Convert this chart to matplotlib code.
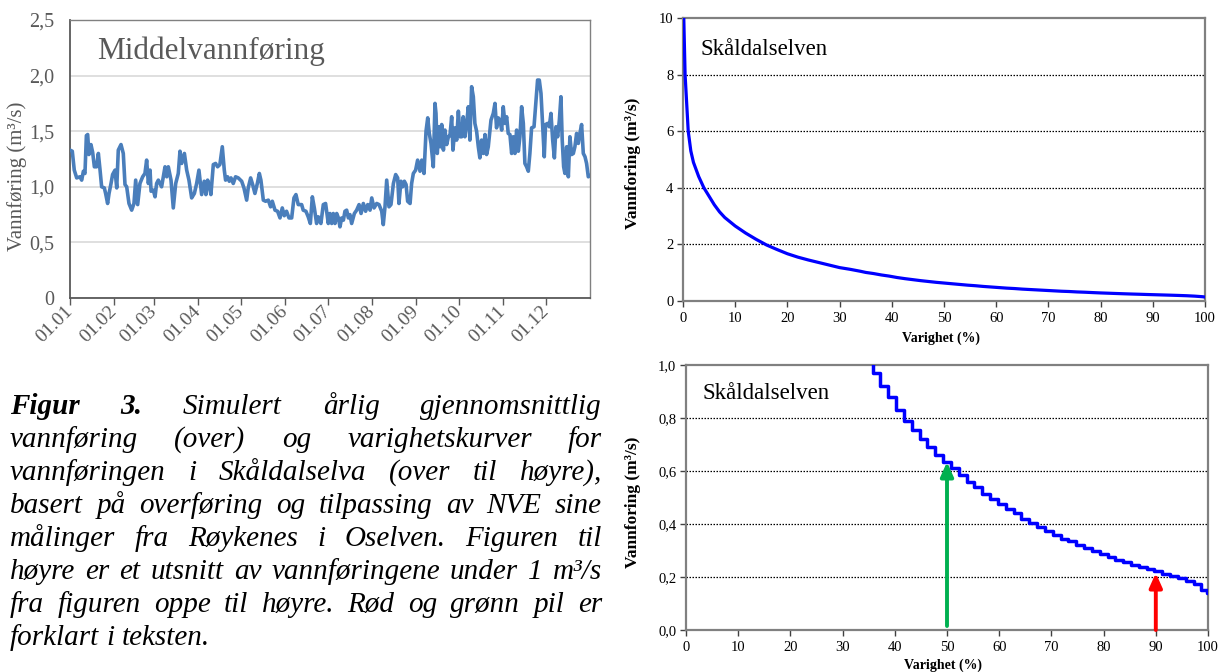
import matplotlib
matplotlib.use('Agg')
import matplotlib.pyplot as plt
from matplotlib.ticker import FixedLocator, FixedFormatter

# ---------------- data ----------------
# Middelvannføring (daily mean flow over the year), day-of-year vs m3/s
days = [0, 1.6, 3.0, 4.7, 7.0, 8.2, 9.4, 10.5, 11.5, 12.4, 13.3, 14.7, 15.9, 17.1, 18.7,
        19.9, 21.1, 22.2, 24.1, 25.0, 26.4, 27.4, 28.8, 29.9, 31.6, 32.8, 33.9, 35.8, 37.4, 38.6,
        39.8, 41.4, 43.3, 44.9, 46.1, 47.5, 49.1, 51.0, 52.6, 53.8, 55.0, 56.2, 56.9, 58.5, 59.7,
        60.8, 62.0, 64.3, 66.7, 67.9, 69.0, 70.9, 72.5, 74.2, 76.0, 77.2, 78.4, 80.3, 81.9, 83.5,
        85.4, 87.3, 88.9, 90.5,
        92.4, 94.2, 95.4, 96.6, 97.8, 98.9, 100.6, 102.2, 103.6, 105.2, 106.9, 108.3, 109.2, 110.6, 111.8,
        113.0, 114.6, 116.2, 118.1, 120.5, 122.1, 124.0, 125.1, 126.8, 128.2, 129.8, 131.5, 132.9, 134.0, 135.7,
        137.3, 139.2, 140.8, 142.0, 143.9, 145.7, 147.4, 149.0, 150.4, 152.0, 153.7, 155.6, 157.2, 158.6, 160.2,
        162.6, 163.7, 165.6, 167.2, 168.7, 170.1, 171.5, 173.1, 174.3, 176.1, 177.8, 179.4, 181.3,
        182.5, 183.7, 184.8, 186.0, 187.2, 188.4, 189.5, 190.7, 191.9, 193.0, 194.2, 195.4, 196.5, 197.7, 199.6,
        201.2, 202.9, 204.3, 205.9, 207.5, 209.0, 210.6, 211.8, 213.4, 215.3, 216.9, 218.8, 219.9, 221.1, 222.3,
        223.9, 225.3, 227.0, 228.6, 230.0, 230.9, 232.3, 233.5, 234.7, 235.9, 237.0, 238.7, 239.8, 241.0, 242.6,
        244.0, 245.7, 246.9, 248.5, 249.9, 251.1, 252.2, 253.4, 255.0, 256.2, 256.9, 257.8, 259.0, 260.0, 260.9,
        262.1, 263.2, 264.4, 265.6, 266.7, 267.9, 268.8, 270.2, 271.4, 272.6, 273.8,
        274.9, 276.0, 277.2, 278.4, 279.6, 280.7, 281.9, 283.1, 284.2, 285.4, 286.6, 287.7, 288.9, 290.1, 291.3,
        292.4, 293.6, 295.5, 297.1, 298.3, 299.4, 300.6, 301.8, 303.0, 304.1, 305.3, 306.5, 307.6, 308.8, 310.0,
        311.1, 312.3, 313.5, 314.7, 315.8, 317.0, 318.2, 319.3, 320.5, 321.7, 322.8, 324.0, 325.7, 327.1, 328.2,
        329.4, 330.6, 331.7, 332.9, 333.8, 335.2, 336.4, 337.6, 338.8, 340.0, 341.1, 342.3, 343.5, 344.6, 345.5,
        346.5, 347.4, 348.6, 349.8, 350.9, 352.1, 353.3, 354.4, 355.6, 356.8, 357.9, 359.1, 360.3, 361.5, 362.6,
        363.8, 365.0]
flows = [1.33, 1.32, 1.15, 1.08, 1.09, 1.06, 1.14, 1.12, 1.46, 1.47, 1.29, 1.38, 1.31, 1.18, 1.18,
         1.30, 1.15, 1.00, 0.99, 0.94, 0.85, 0.94, 1.03, 1.11, 1.15, 0.99, 1.33, 1.38, 1.30, 1.02,
         1.00, 0.85, 0.79, 0.85, 1.06, 0.84, 1.03, 1.09, 1.12, 1.24, 1.03, 1.15, 0.96, 0.97, 0.91,
         1.03, 1.06, 1.00, 1.18, 1.09, 1.18, 1.06, 0.81, 1.03, 1.12, 1.32, 1.21, 1.30, 1.15, 1.06,
         0.90, 0.94, 1.03, 1.15,
         0.93, 1.05, 0.93, 1.06, 1.01, 0.93, 1.20, 1.21, 1.18, 1.20, 1.36, 1.15, 1.06, 1.09, 1.05,
         1.08, 1.03, 1.09, 1.08, 1.05, 0.99, 0.88, 0.99, 1.08, 1.02, 0.94, 1.03, 1.12, 1.06, 0.88,
         0.87, 0.88, 0.82, 0.87, 0.79, 0.78, 0.72, 0.81, 0.74, 0.78, 0.72, 0.72, 0.90, 0.93, 0.84,
         0.84, 0.79, 0.78, 0.73, 0.67, 0.91, 0.81, 0.67, 0.73, 0.67, 0.84, 0.85, 0.67,
         0.76, 0.67, 0.76, 0.67, 0.76, 0.72, 0.64, 0.72, 0.70, 0.78, 0.79, 0.72, 0.75, 0.67, 0.76,
         0.79, 0.84, 0.76, 0.85, 0.78, 0.84, 0.79, 0.90, 0.81, 0.85, 0.84, 0.78, 0.66, 0.82, 1.06,
         0.82, 0.84, 1.03, 1.11, 1.08, 0.85, 1.05, 1.00, 1.05, 1.02, 0.87, 0.85, 1.03, 1.12, 1.15,
         1.24, 1.14, 1.24, 1.12, 1.50, 1.62, 1.48, 1.39, 1.18, 1.75, 1.66, 1.30, 1.54, 1.36, 1.56,
         1.33, 1.51, 1.38, 1.45, 1.46, 1.63, 1.33, 1.53, 1.42, 1.68, 1.45,
         1.45, 1.63, 1.45, 1.57, 1.72, 1.42, 1.90, 1.81, 1.57, 1.50, 1.36, 1.26, 1.42, 1.30, 1.47,
         1.29, 1.36, 1.60, 1.66, 1.75, 1.53, 1.62, 1.60, 1.51, 1.72, 1.57, 1.63, 1.48, 1.47, 1.30,
         1.45, 1.30, 1.51, 1.32, 1.45, 1.72, 1.57, 1.21, 1.18, 1.14, 1.30, 1.53, 1.54, 1.78, 1.96,
         1.96, 1.84, 1.57, 1.27, 1.56, 1.57, 1.54, 1.66, 1.42, 1.26, 1.54, 1.45, 1.60, 1.81, 1.42,
         1.18, 1.12, 1.36, 1.09, 1.45, 1.29, 1.30, 1.36, 1.48, 1.39, 1.48, 1.56, 1.30, 1.27, 1.21,
         1.09, 1.10]

month_days = [0, 31, 59, 90, 120, 151, 181, 212, 243, 273, 304, 334]
month_labels = ['01.01', '01.02', '01.03', '01.04', '01.05', '01.06',
                '01.07', '01.08', '01.09', '01.10', '01.11', '01.12']
y1_ticks = [0, 0.5, 1.0, 1.5, 2.0, 2.5]
y1_labels = ['0', '0,5', '1,0', '1,5', '2,0', '2,5']

# Duration curve (Skåldalselven): % of time vs m3/s
dur_pct = [0.15, 0.4, 0.7, 1.0, 1.5, 2, 3, 4, 5, 6, 7, 8, 10, 12, 14, 16, 18, 20, 22, 24,
           26, 28, 30, 32, 34, 35, 36.5, 38, 39.5, 41, 42.5, 44, 45.5, 47, 48.5, 50, 51.5, 53,
           54.5, 56, 57.5, 59, 60.5, 62, 63.5, 65, 66.5, 68, 69.5, 71, 72.5, 74, 75.5, 77, 78.5,
           80, 81.5, 83, 84.5, 86, 87.5, 89, 90.5, 92, 93.5, 95, 96.5, 98, 99.5, 100]
dur_flow = [10.0, 8.0, 7.0, 6.0, 5.3, 4.9, 4.4, 4.0, 3.7, 3.4, 3.15, 2.95, 2.65, 2.4, 2.18,
            1.98, 1.82, 1.67, 1.55, 1.45, 1.36, 1.27, 1.18, 1.12, 1.05, 1.01, 0.97, 0.92, 0.88,
            0.83, 0.79, 0.755, 0.72, 0.69, 0.66, 0.635, 0.61, 0.585, 0.56, 0.54, 0.515, 0.495,
            0.475, 0.455, 0.44, 0.42, 0.405, 0.39, 0.375, 0.36, 0.345, 0.335, 0.32, 0.31, 0.297,
            0.285, 0.275, 0.265, 0.255, 0.246, 0.238, 0.229, 0.221, 0.213, 0.205, 0.196, 0.186,
            0.172, 0.152, 0.14]
pct_ticks = [0, 10, 20, 30, 40, 50, 60, 70, 80, 90, 100]
y2_ticks = [0, 2, 4, 6, 8, 10]
y3_ticks = [0.0, 0.2, 0.4, 0.6, 0.8, 1.0]
y3_labels = ['0,0', '0,2', '0,4', '0,6', '0,8', '1,0']
arrow_green = (50, 0.015, 0.634)
arrow_red = (90, 0.0, 0.215)

caption_lines = [
    [('Figur', 'b'), ('3.', 'b'), ('Simulert', ''), ('årlig', ''), ('gjennomsnittlig', '')],
    [(w, '') for w in 'vannføring (over) og varighetskurver for'.split()],
    [(w, '') for w in 'vannføringen i Skåldalselva (over til høyre),'.split()],
    [(w, '') for w in 'basert på overføring og tilpassing av NVE sine'.split()],
    [(w, '') for w in 'målinger fra Røykenes i Oselven. Figuren til'.split()],
    [(w, '') for w in 'høyre er et utsnitt av vannføringene under 1 m³/s'.split()],
    [(w, '') for w in 'fra figuren oppe til høyre. Rød og grønn pil er'.split()],
    [(w, '') for w in 'forklart i teksten.'.split()],
]

# ---------------- figure ----------------
W, H = 1218, 672
plt.rcParams['font.family'] = ['Liberation Serif', 'DejaVu Serif']
fig = plt.figure(figsize=(W / 100, H / 100), dpi=100)

def fx(x):
    return x / W

def fy(y):
    return 1 - y / H

GRAY_TXT = '#595959'

# ---- Panel 1: Middelvannføring ----
ax1 = fig.add_axes([fx(70), fy(298), 520 / W, 278 / H])
ax1.plot(days, flows, color='#4a7ebb', lw=2.6, solid_joinstyle='round', zorder=3)
ax1.set_xlim(0, 365)
ax1.set_ylim(0, 2.5)
ax1.yaxis.set_major_locator(FixedLocator(y1_ticks))
ax1.yaxis.set_major_formatter(FixedFormatter(y1_labels))
ax1.xaxis.set_major_locator(FixedLocator(month_days))
ax1.xaxis.set_major_formatter(FixedFormatter(month_labels))
ax1.tick_params(axis='y', length=0, pad=11, labelsize=14.5, labelcolor=GRAY_TXT)
ax1.tick_params(axis='x', length=5, width=1, color=GRAY_TXT, direction='out', pad=3,
                labelsize=14, labelcolor=GRAY_TXT)
for lab in ax1.get_xticklabels():
    lab.set_rotation(45)
    lab.set_ha('right')
    lab.set_va('center')
    lab.set_rotation_mode('anchor')
ax1.yaxis.grid(True, color='#d9d9d9', lw=1.2)
ax1.set_axisbelow(True)
for side in ['left', 'bottom']:
    ax1.spines[side].set_color(GRAY_TXT)
    ax1.spines[side].set_linewidth(1.3)
for side in ['top', 'right']:
    ax1.spines[side].set_color('#808080')
    ax1.spines[side].set_linewidth(1.0)
fig.text(fx(97), fy(59), 'Middelvannføring', fontsize=22.5, color=GRAY_TXT,
         ha='left', va='baseline')
fig.text(fx(17), fy(176), 'Vannføring (m³/s)', fontsize=15, color=GRAY_TXT,
         rotation=90, ha='center', va='center')

# ---- helper for the duration panels ----
def style_duration(ax, yticks):
    ax.set_xlim(0, 100)
    ax.xaxis.set_major_locator(FixedLocator(pct_ticks))
    ax.yaxis.set_major_locator(FixedLocator(yticks))
    ax.tick_params(axis='both', direction='out', length=4, width=1, color='#404040',
                   labelsize=10.5, labelcolor='black')
    ax.tick_params(axis='x', pad=4)
    ax.tick_params(axis='y', pad=3)
    for s in ax.spines.values():
        s.set_color('#808080')
        s.set_linewidth(1.6)
    for yv in yticks[1:-1]:
        ax.axhline(yv, color='black', lw=0.9, ls=(0, (1.2, 1.2)), zorder=1)

# ---- Panel 2: full duration curve ----
ax2 = fig.add_axes([fx(683), fy(301), 522 / W, 283 / H])
ax2.plot(dur_pct, dur_flow, color='#0000ff', lw=2.3, zorder=3)
ax2.set_ylim(0, 10)
style_duration(ax2, y2_ticks)
fig.text(fx(700), fy(55), 'Skåldalselven', fontsize=16.5, ha='left', va='baseline')
fig.text(fx(941), fy(338), 'Varighet (%)', fontsize=10, fontweight='bold',
         ha='center', va='center')
fig.text(fx(633), fy(163), 'Vannforing (m³/s)', fontsize=12.5, fontweight='bold',
         rotation=90, ha='center', va='center')

# ---- Panel 3: zoom below 1 m3/s ----
ax3 = fig.add_axes([fx(686), fy(630), 522 / W, 265 / H])
ax3.plot(dur_pct, dur_flow, color='#0000ff', lw=2.5, drawstyle='steps-mid', zorder=3)
ax3.set_ylim(0, 1.0)
style_duration(ax3, y3_ticks)
ax3.yaxis.set_major_formatter(FixedFormatter(y3_labels))
for (xa, y0, y1), col in [(arrow_green, '#00b050'), (arrow_red, '#ff0000')]:
    ax3.annotate('', xy=(xa, y1), xytext=(xa, y0),
                 arrowprops=dict(arrowstyle='-|>,head_length=0.85,head_width=0.38',
                                 color=col, lw=2.8, shrinkA=0, shrinkB=0,
                                 mutation_scale=10),
                 zorder=5, annotation_clip=False)
fig.text(fx(703), fy(399), 'Skåldalselven', fontsize=16.5, ha='left', va='baseline')
fig.text(fx(943), fy(665), 'Varighet (%)', fontsize=10, fontweight='bold',
         ha='center', va='center')
fig.text(fx(633), fy(502), 'Vannforing (m³/s)', fontsize=12.5, fontweight='bold',
         rotation=90, ha='center', va='center')

# ---- Caption (justified block) ----
CAP_FS = 21
CAP_LEFT, CAP_RIGHT = 10, 602
CAP_BASE0, CAP_STEP = 414, 33.0
renderer = fig.canvas.get_renderer()
space_px = CAP_FS * 100 / 72 * 0.25
for i, words in enumerate(caption_lines):
    yb = CAP_BASE0 + i * CAP_STEP
    objs = []
    for w, st in words:
        t = fig.text(0, fy(yb), w, fontsize=CAP_FS, style='italic',
                     fontweight='bold' if st == 'b' else 'normal',
                     ha='left', va='baseline')
        objs.append(t)
    widths = [t.get_window_extent(renderer).width for t in objs]
    last = (i == len(caption_lines) - 1)
    if last or len(objs) == 1:
        gap = space_px
    else:
        gap = (CAP_RIGHT - CAP_LEFT - sum(widths)) / (len(objs) - 1)
    x = CAP_LEFT
    for t, wd in zip(objs, widths):
        t.set_x(fx(x))
        x += wd + gap

fig.savefig('out.png', dpi=100)
